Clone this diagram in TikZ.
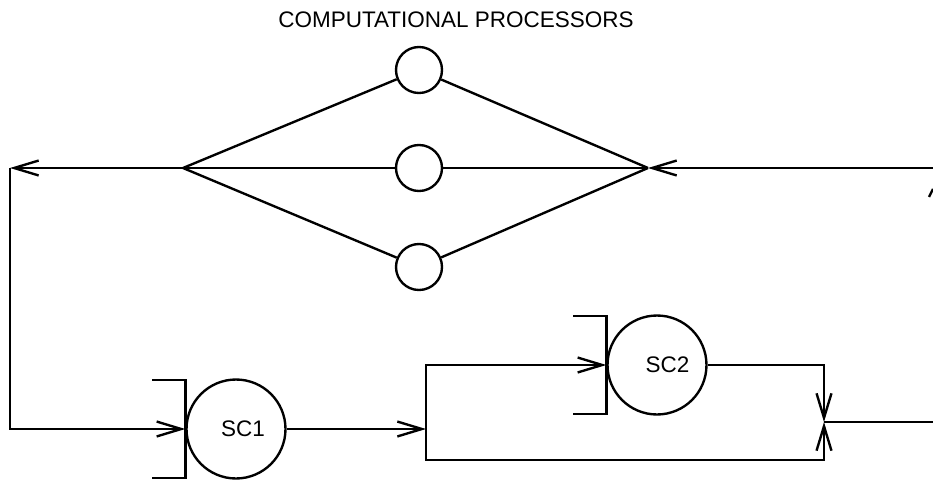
\documentclass[tikz,border=0pt]{standalone}
\usepackage{fontspec}
\setmainfont{Liberation Sans}
\usetikzlibrary{arrows.meta,calc}

\begin{document}
\begin{tikzpicture}[
            x=0.02cm, y=-0.02cm,
            line width=1.35pt,
            font=\fontsize{12.8}{15}\selectfont,
            proc/.style={draw,circle,minimum size=0.92cm,inner sep=0pt},
            sc/.style={draw,circle,minimum size=1.98cm,inner sep=0pt},
            flow/.style={-{Straight Barb[length=14pt,width=8.5pt,line width=1.35pt]}}
        ]
            \useasboundingbox (0,0) rectangle (933,490);

            \node[anchor=base] (title) at (456,28) {COMPUTATIONAL PROCESSORS};

            \node[proc] (p1) at (419,70) {};
            \node[proc] (p2) at (419,168) {};
            \node[proc] (p3) at (419,267) {};

            \coordinate (fork) at (183,168);
            \coordinate (join) at (648,168);
            \coordinate (rtop) at (933,168);
            \coordinate (tl)   at (10,168);

            \node[sc] (sc1) at (236,429) {\hspace{8pt}SC1};
            \node[sc] (sc2) at (657,365) {\hspace{12pt}SC2};

            \coordinate (split) at (426,429);
            \coordinate (botr)  at (824,460);
            \coordinate (merge) at (824,422);
            \coordinate (rin)   at (933,422);

            % processors between the two junctions
            \draw (fork) -- (p1) -- (join);
            \draw (fork) -- (p2) -- (join);
            \draw (fork) -- (p3) -- (join);
            \draw[flow] (rtop) -- (join);
            \draw[flow] (fork) -- (tl);
            \draw[flow] (tl) |- (sc1.west);

            % brackets in front of the SC nodes
            \draw ($(sc1.west)+(-33,-49)$) -- ($(sc1.west)+(0,-49)$)
                  -- ($(sc1.west)+(0,49)$) -- ($(sc1.west)+(-33,49)$);
            \draw ($(sc2.west)+(-33,-49)$) -- ($(sc2.west)+(0,-49)$)
                  -- ($(sc2.west)+(0,49)$) -- ($(sc2.west)+(-33,49)$);

            \draw[flow] (sc1.east) -- (split);
            \draw[flow] (split) |- (sc2.west);
            \draw[flow] (split) |- (botr) -- (merge);
            \draw[flow] (sc2.east) -| (merge);
            \draw (rin) -- (merge);

            \draw (929,197) -- (933,189);
        \end{tikzpicture}
\end{document}
